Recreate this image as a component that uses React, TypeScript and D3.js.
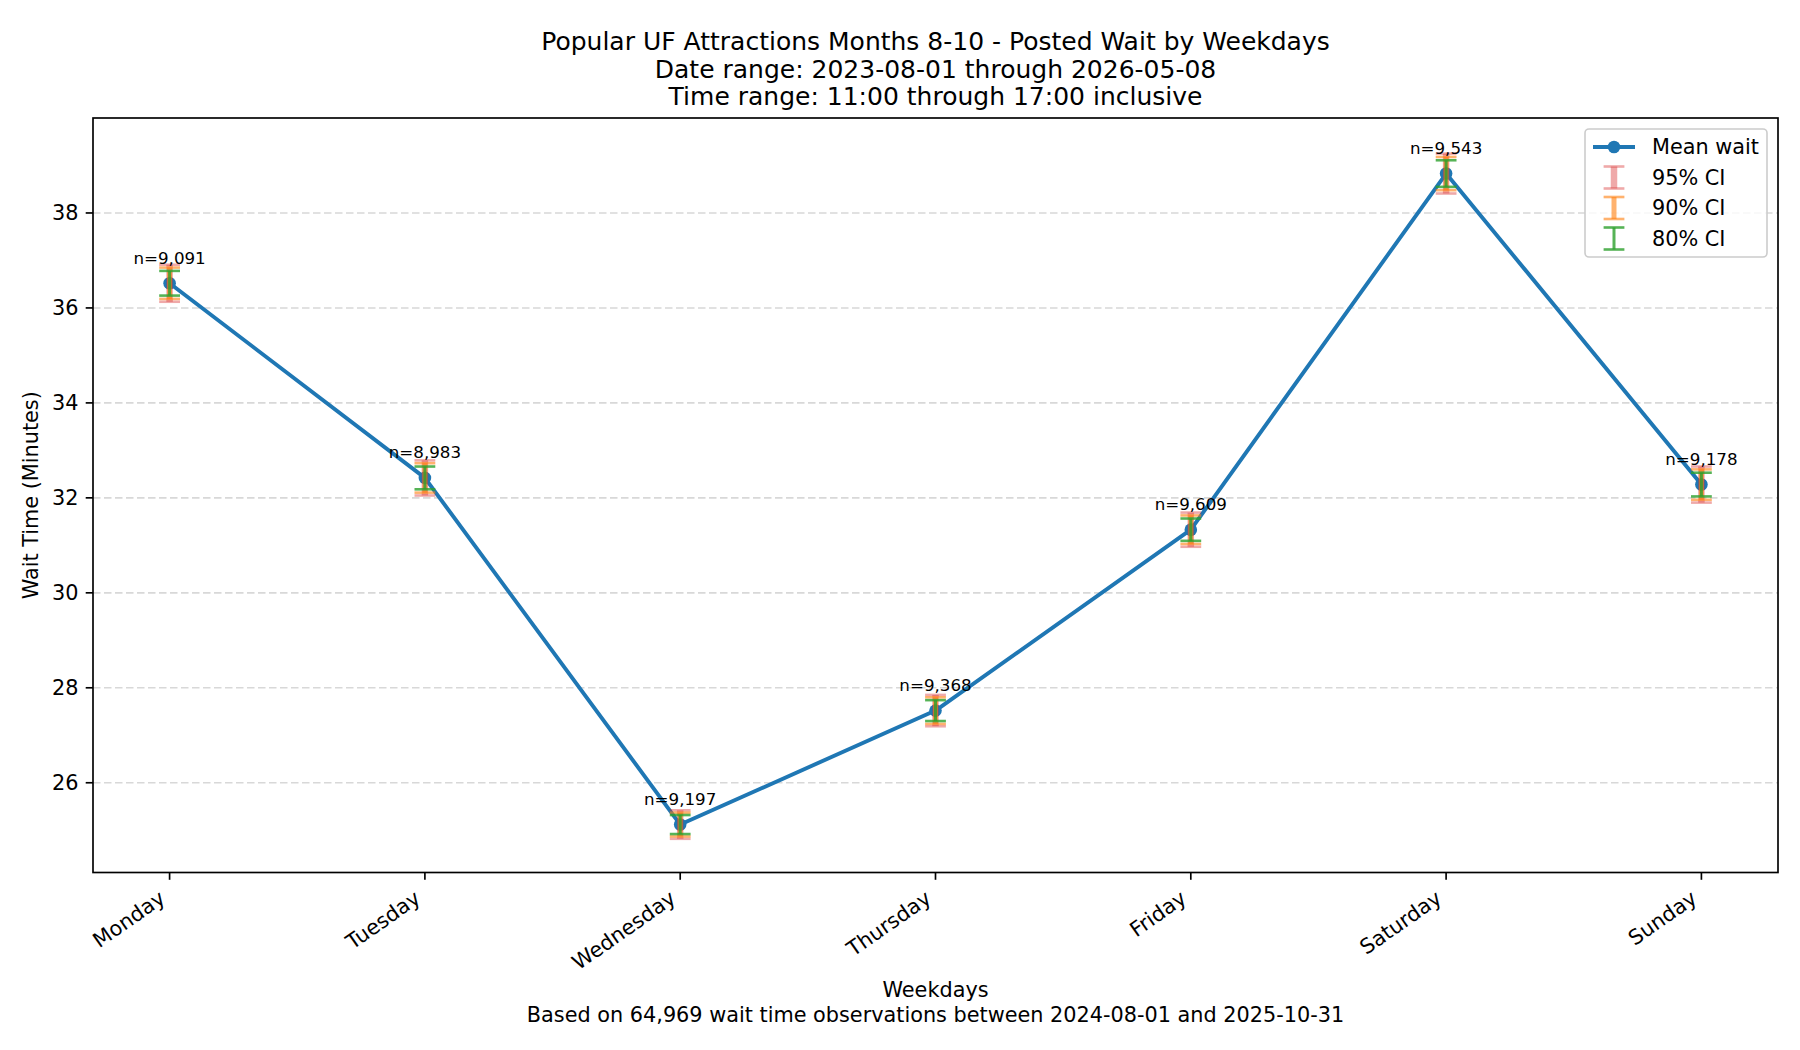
import React from "react";
import * as d3 from "d3";

// weekday categories and values
const weekdays = ["Monday", "Tuesday", "Wednesday", "Thursday", "Friday", "Saturday", "Sunday"];
const meanWait = [36.52, 32.42, 25.12, 27.52, 31.33, 38.83, 32.28];
const ci95 = [0.39, 0.37, 0.3, 0.33, 0.36, 0.42, 0.38];
const ci90 = [0.33, 0.31, 0.25, 0.28, 0.3, 0.35, 0.32];
const ci80 = [0.26, 0.24, 0.2, 0.22, 0.235, 0.28, 0.25];
const counts = [9091, 8983, 9197, 9368, 9609, 9543, 9178];
const yTicks = [26, 28, 30, 32, 34, 36, 38];

const titleLines = [
  "Popular UF Attractions Months 8-10 - Posted Wait by Weekdays",
  "Date range: 2023-08-01 through 2026-05-08",
  "Time range: 11:00 through 17:00 inclusive",
];

const W = 1800;
const H = 1050;
const FONT = "'DejaVu Sans', sans-serif";
const BLUE = "#1f77b4";

const ciLevels = [
  { label: "95% CI", half: ci95, color: "#d62728", opacity: 0.4, width: 6.5 },
  { label: "90% CI", half: ci90, color: "#ff7f0e", opacity: 0.6, width: 5 },
  { label: "80% CI", half: ci80, color: "#2ca02c", opacity: 0.8, width: 3 },
];

const App: React.FC = () => {
  const left = 93;
  const right = 1778;
  const top = 118;
  const bottom = 872.5;

  const x = d3.scaleLinear().domain([-0.3, 6.3]).range([left, right]);
  const y = d3.scaleLinear().domain([24.11, 40.0]).range([bottom, top]);

  const line = d3
    .line<number>()
    .x((_, i) => x(i))
    .y((d) => y(d));

  const capHalf = 10.4;
  const fmt = d3.format(",");

  // legend box
  const lgX = 1585;
  const lgY = 129;
  const lgW = 182;
  const lgH = 128;
  const rowY = (i: number) => lgY + 18 + i * 30.5;
  const handleX = lgX + 29;

  return (
    <svg
      width={W}
      height={H}
      style={{ position: "absolute", left: 0, top: 0, background: "#fff" }}
      fontFamily={FONT}
    >
      <rect x={0} y={0} width={W} height={H} fill="#fff" />

      {/* title */}
      {titleLines.map((t, i) => (
        <text key={t} x={(left + right) / 2} y={50 + i * 27.6} fontSize={25} textAnchor="middle" fill="#000">
          {t}
        </text>
      ))}

      {/* grid */}
      {yTicks.map((t) => (
        <line
          key={"g" + t}
          x1={left}
          x2={right}
          y1={y(t)}
          y2={y(t)}
          stroke="#d8d8d8"
          strokeWidth={1.6}
          strokeDasharray="7.5,3.5"
        />
      ))}

      {/* mean line and markers */}
      <path d={line(meanWait) || ""} fill="none" stroke={BLUE} strokeWidth={3.9} strokeLinejoin="round" />
      {meanWait.map((m, i) => (
        <circle key={"m" + i} cx={x(i)} cy={y(m)} r={6.3} fill={BLUE} />
      ))}

      {/* confidence interval error bars */}
      {ciLevels.map((lv) =>
        meanWait.map((m, i) => {
          const cx = x(i);
          const y1 = y(m + lv.half[i]);
          const y2 = y(m - lv.half[i]);
          return (
            <g key={lv.label + i} stroke={lv.color} strokeOpacity={lv.opacity}>
              <line x1={cx} x2={cx} y1={y1} y2={y2} strokeWidth={lv.width} />
              <line x1={cx - capHalf} x2={cx + capHalf} y1={y1} y2={y1} strokeWidth={2.6} />
              <line x1={cx - capHalf} x2={cx + capHalf} y1={y2} y2={y2} strokeWidth={2.6} />
            </g>
          );
        })
      )}

      {/* n labels */}
      {meanWait.map((m, i) => (
        <text key={"n" + i} x={x(i)} y={y(m + 0.41)} fontSize={16.7} textAnchor="middle" fill="#000">
          n={fmt(counts[i])}
        </text>
      ))}

      {/* axes frame */}
      <rect x={left} y={top} width={right - left} height={bottom - top} fill="none" stroke="#000" strokeWidth={1.67} />

      {/* y axis */}
      {yTicks.map((t) => (
        <g key={"yt" + t}>
          <line x1={left - 7.3} x2={left} y1={y(t)} y2={y(t)} stroke="#000" strokeWidth={1.67} />
          <text x={left - 14.5} y={y(t) + 7.3} fontSize={20.8} textAnchor="end" fill="#000">
            {t}
          </text>
        </g>
      ))}
      <text
        transform={`translate(31,${(top + bottom) / 2}) rotate(-90)`}
        fontSize={20.8}
        textAnchor="middle"
        dominantBaseline="central"
        fill="#000"
      >
        Wait Time (Minutes)
      </text>

      {/* x axis */}
      {weekdays.map((d, i) => (
        <g key={d}>
          <line x1={x(i)} x2={x(i)} y1={bottom} y2={bottom + 7.3} stroke="#000" strokeWidth={1.67} />
          <text
            transform={`translate(${x(i) - 3},${bottom + 29}) rotate(-35)`}
            fontSize={20.8}
            textAnchor="end"
            fill="#000"
          >
            {d}
          </text>
        </g>
      ))}
      <text x={(left + right) / 2} y={997} fontSize={20.8} textAnchor="middle" fill="#000">
        Weekdays
      </text>
      <text x={(left + right) / 2} y={1022} fontSize={20.8} textAnchor="middle" fill="#000">
        Based on 64,969 wait time observations between 2024-08-01 and 2025-10-31
      </text>

      {/* legend */}
      <rect x={lgX} y={lgY} width={lgW} height={lgH} rx={4} fill="#fff" fillOpacity={0.8} stroke="#ccc" strokeWidth={1.6} />
      <line x1={handleX - 21} x2={handleX + 21} y1={rowY(0)} y2={rowY(0)} stroke={BLUE} strokeWidth={3.9} />
      <circle cx={handleX} cy={rowY(0)} r={6.3} fill={BLUE} />
      <text x={lgX + 67} y={rowY(0) + 7.3} fontSize={20.8} fill="#000">
        Mean wait
      </text>
      {ciLevels.map((lv, k) => {
        const cy = rowY(k + 1);
        return (
          <g key={"lg" + lv.label}>
            <g stroke={lv.color} strokeOpacity={lv.opacity}>
              <line x1={handleX} x2={handleX} y1={cy - 11} y2={cy + 11} strokeWidth={lv.width} />
              <line x1={handleX - capHalf} x2={handleX + capHalf} y1={cy - 11} y2={cy - 11} strokeWidth={2.6} />
              <line x1={handleX - capHalf} x2={handleX + capHalf} y1={cy + 11} y2={cy + 11} strokeWidth={2.6} />
            </g>
            <text x={lgX + 67} y={cy + 7.3} fontSize={20.8} fill="#000">
              {lv.label}
            </text>
          </g>
        );
      })}
    </svg>
  );
};

export default App;
